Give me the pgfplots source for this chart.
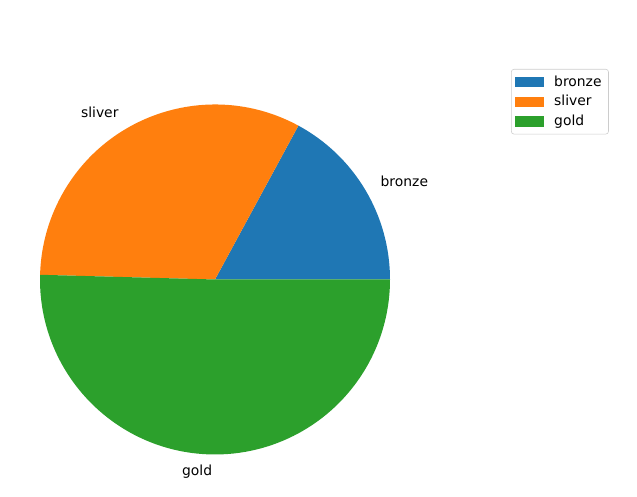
\documentclass[border=0pt]{standalone}
\usepackage{pgfplots}
\pgfplotsset{compat=1.18}
\usepackage{fontspec}
\setmainfont{DejaVu Sans}
\definecolor{cbronze}{HTML}{1F77B4}
\definecolor{csliver}{HTML}{FF7F0E}
\definecolor{cgold}{HTML}{2CA02C}
% data (plain numbers)
\def\vbronze{20}
\def\vsliver{38}
\def\vgold{59}
\pgfmathsetmacro{\total}{\vbronze+\vsliver+\vgold}
\pgfmathsetmacro{\aA}{\vbronze/\total*360}
\pgfmathsetmacro{\aB}{(\vbronze+\vsliver)/\total*360}
\pgfmathsetmacro{\mA}{\aA/2}
\pgfmathsetmacro{\mB}{(\aA+\aB)/2}
\pgfmathsetmacro{\mC}{(\aB+360)/2}
\def\cx{215}
\def\cy{217.5}
\def\rr{175}
\def\rpt{126pt}
\begin{document}
\begin{tikzpicture}
\begin{axis}[
  scale only axis, width=458.64pt, height=357.84pt,
  xmin=0, xmax=637, ymin=0, ymax=497,
  hide axis, clip=false,
  legend style={at={(axis cs:511,428)}, anchor=north west,
    draw=black!20, rounded corners=2pt, fill=white,
    font=\fontsize{10}{12}\selectfont, inner xsep=3pt, inner ysep=2.5pt,
    row sep=1.2pt, cells={anchor=west}},
  legend image code/.code={\fill[#1, sharp corners] (0pt,-3.5pt) rectangle (20pt,3.5pt); \path (0pt,0pt) (25.5pt,0pt);},
]
\path (axis cs:0,0) rectangle (axis cs:637,497);
\fill[cbronze] (axis cs:\cx,\cy) -- (axis cs:{\cx+\rr},\cy) arc[start angle=0, end angle=\aA, radius=\rpt] -- cycle;
\fill[csliver] (axis cs:\cx,\cy) -- (axis cs:{\cx+\rr*cos(\aA)},{\cy+\rr*sin(\aA)}) arc[start angle=\aA, end angle=\aB, radius=\rpt] -- cycle;
\fill[cgold] (axis cs:\cx,\cy) -- (axis cs:{\cx+\rr*cos(\aB)},{\cy+\rr*sin(\aB)}) arc[start angle=\aB, end angle=360, radius=\rpt] -- cycle;
\node[anchor=west, inner sep=0pt, font=\fontsize{10}{12}\selectfont] at (axis cs:{\cx+1.1*\rr*cos(\mA)},{\cy+1.1*\rr*sin(\mA)}) {bronze};
\node[anchor=east, inner sep=0pt, font=\fontsize{10}{12}\selectfont] at (axis cs:{\cx+1.1*\rr*cos(\mB)},{\cy+1.1*\rr*sin(\mB)}) {sliver};
\node[anchor=east, inner sep=0pt, font=\fontsize{10}{12}\selectfont] at (axis cs:{\cx+1.1*\rr*cos(\mC)},{\cy+1.1*\rr*sin(\mC)}) {gold};
\addlegendimage{cbronze}\addlegendentry{bronze}
\addlegendimage{csliver}\addlegendentry{sliver}
\addlegendimage{cgold}\addlegendentry{gold}
\end{axis}
\end{tikzpicture}
\end{document}
